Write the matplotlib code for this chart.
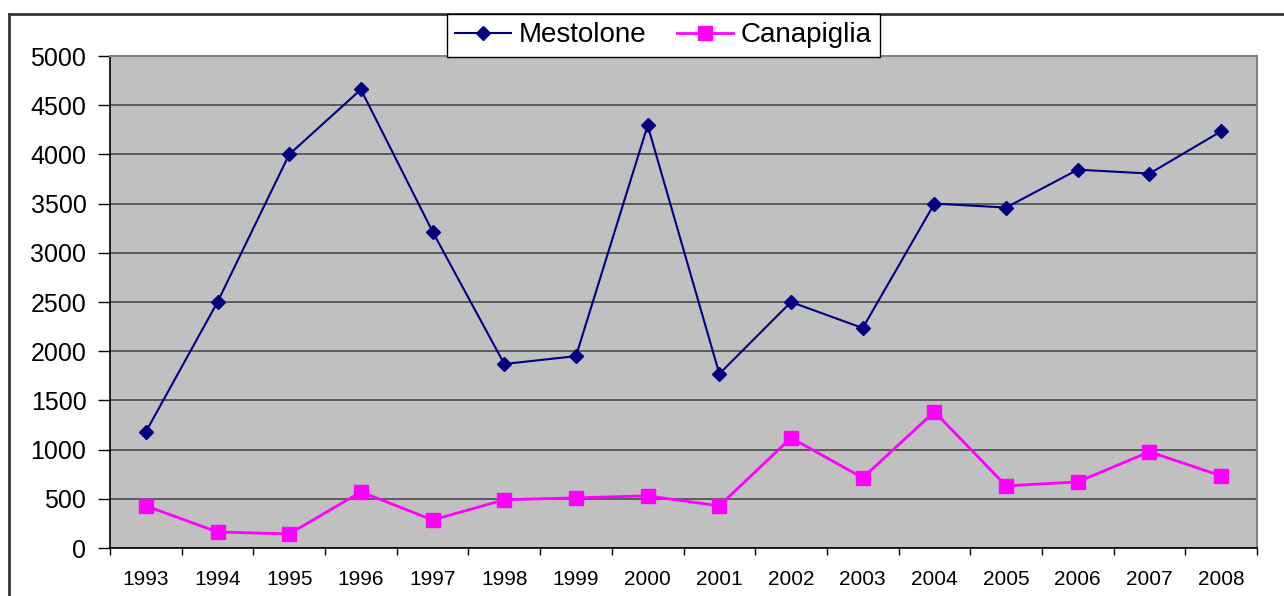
import matplotlib
matplotlib.use("Agg")
import matplotlib.pyplot as plt
from matplotlib.lines import Line2D

years = ["1993", "1994", "1995", "1996", "1997", "1998", "1999", "2000",
         "2001", "2002", "2003", "2004", "2005", "2006", "2007", "2008"]
mestolone = [1180, 2500, 4000, 4660, 3215, 1870, 1950, 4295,
             1770, 2500, 2235, 3500, 3460, 3845, 3805, 4235]
canapiglia = [428, 163, 143, 570, 285, 490, 510, 530,
              428, 1120, 713, 1385, 631, 672, 978, 733]
yticks = [0, 500, 1000, 1500, 2000, 2500, 3000, 3500, 4000, 4500, 5000]

plt.rcParams['font.family'] = ['Liberation Sans', 'DejaVu Sans']

W, H = 1284, 596
fig = plt.figure(figsize=(W / 100, H / 100), dpi=100)
ax = fig.add_axes([110 / W, 1 - 548 / H, (1257 - 110) / W, (548 - 56) / H])
ax.set_facecolor('#C0C0C0')

x = list(range(len(years)))
ax.plot(x, mestolone, color='#000080', lw=1.5, marker='D', markersize=7.5,
        markerfacecolor='#000080', markeredgecolor='#000080', label='Mestolone', zorder=3)
ax.plot(x, canapiglia, color='#FF00FF', lw=2, marker='s', markersize=10.5,
        markerfacecolor='#FF00FF', markeredgecolor='#FF00FF', label='Canapiglia', zorder=3)

ax.set_xlim(-0.5, len(years) - 0.5)
ax.set_ylim(0, 5000)
ax.set_yticks(yticks)
ax.set_yticklabels([str(v) for v in yticks], fontsize=18)
ax.yaxis.grid(True, color='#4a4a4a', lw=1.2)
ax.set_axisbelow(True)

ax.set_xticks(x)
ax.set_xticklabels(years, fontsize=15)
ax.set_xticks([i - 0.5 for i in range(len(years) + 1)], minor=True)
ax.tick_params(axis='x', which='major', length=0, pad=16)
ax.tick_params(axis='x', which='minor', length=5, width=1, direction='out', color='black')
ax.tick_params(axis='y', length=9, width=1, direction='out', pad=8)

for s in ['top', 'right']:
    ax.spines[s].set_color('#808080')
    ax.spines[s].set_linewidth(1.5)
for s in ['left', 'bottom']:
    ax.spines[s].set_color('black')
    ax.spines[s].set_linewidth(1.2)

# outer chart frame
fig.add_artist(Line2D([9 / W, 1.0], [1 - 14 / H, 1 - 14 / H], transform=fig.transFigure,
                      color='#333333', lw=2))
fig.add_artist(Line2D([9 / W, 9 / W], [1 - 14 / H, 0.0], transform=fig.transFigure,
                      color='#333333', lw=2))

leg = fig.legend(loc='center', bbox_to_anchor=((439 + 888) / 2 / W, 1 - 35.5 / H),
                 ncol=2, fontsize=20, frameon=True, fancybox=False, edgecolor='black',
                 framealpha=1, handlelength=2.0, columnspacing=1.1, handletextpad=0.3,
                 borderpad=0.3)
leg.get_frame().set_linewidth(1)
leg.set_zorder(10)

fig.savefig('out.png', dpi=100)
